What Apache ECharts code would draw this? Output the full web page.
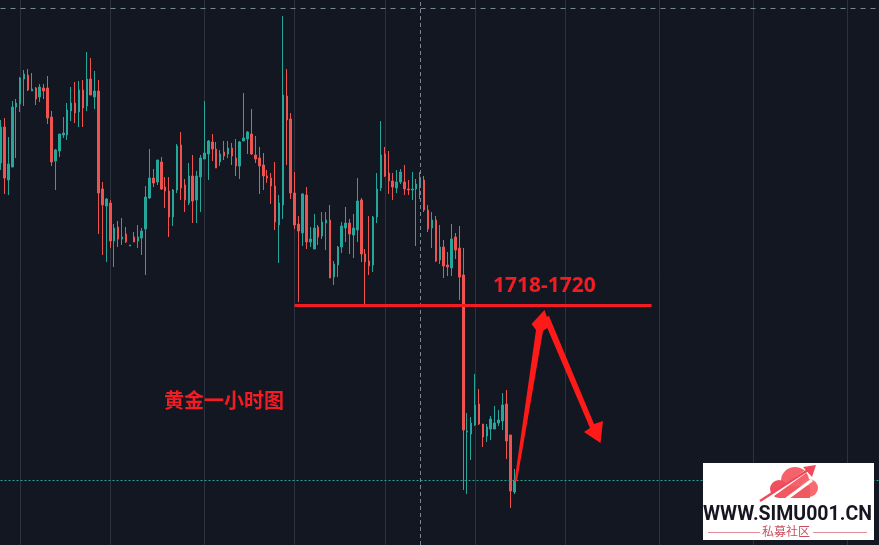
<!DOCTYPE html>
<html><head><meta charset="utf-8">
<script src="https://cdn.jsdelivr.net/npm/echarts@6/dist/echarts.min.js"></script>
<style>html,body{margin:0;padding:0;background:#131722;}#c{width:879px;height:545px;}</style>
</head><body><div id="c"></div>
<script>
const opens=[1733.2,1736.8,1731.5,1732.8,1738.8,1739.1,1741.6,1742.0,1740.4,1740.7,1739.8,1740.7,1740.7,1737.8,1733.4,1734.4,1736.0,1736.0,1738.4,1739.2,1738.3,1740.5,1738.9,1741.6,1739.8,1740.4,1730.6,1728.9,1729.2,1725.4,1726.8,1725.6,1726.1,1724.9,1725.8,1725.4,1725.7,1726.6,1729.7,1731.7,1731.3,1733.3,1730.8,1730.4,1727.8,1730.5,1735.0,1731.0,1729.2,1731.9,1729.5,1731.8,1733.6,1734.1,1735.3,1734.6,1733.3,1734.3,1734.1,1734.7,1733.7,1732.9,1735.4,1735.6,1736.1,1734.0,1733.7,1733.0,1731.9,1731.7,1730.9,1727.0,1729.0,1739.9,1737.6,1730.2,1727.1,1726.2,1730.0,1725.3,1724.6,1726.8,1725.9,1727.2,1727.5,1721.8,1723.0,1724.8,1726.7,1727.2,1726.0,1726.5,1729.5,1724.1,1723.4,1723.0,1727.8,1730.7,1734.1,1732.2,1731.4,1730.7,1731.3,1731.3,1730.6,1730.5,1730.6,1731.0,1731.5,1728.5,1726.7,1727.5,1723.5,1724.8,1723.0,1722.7,1725.8,1724.7,1722.0,1706.3,1706.1,1707.0,1709.1,1707.1,1705.9,1706.6,1706.6,1707.2,1707.4,1709.1,1706.0,1700.3];
const closes=[1736.8,1731.7,1733.1,1738.8,1739.2,1741.7,1742.1,1740.5,1740.6,1739.6,1740.8,1740.4,1737.7,1733.3,1734.5,1736.1,1736.2,1738.5,1739.2,1738.2,1740.5,1738.7,1741.6,1740.0,1740.4,1730.2,1729.0,1729.6,1725.4,1726.7,1725.6,1725.8,1725.3,1725.0,1725.3,1725.8,1726.4,1729.8,1731.7,1731.2,1733.5,1730.6,1730.4,1727.8,1730.5,1734.9,1730.7,1729.5,1731.9,1729.4,1731.9,1733.7,1734.2,1735.4,1734.6,1732.7,1734.1,1733.9,1734.7,1733.9,1732.9,1735.3,1735.7,1736.3,1734.1,1733.6,1732.9,1731.9,1731.7,1730.9,1727.3,1729.2,1740.0,1737.5,1730.2,1727.0,1726.4,1730.1,1725.3,1725.6,1726.7,1725.8,1727.3,1727.5,1721.7,1723.1,1724.8,1726.9,1727.2,1726.1,1726.7,1729.4,1724.1,1723.3,1722.9,1727.8,1730.6,1734.0,1731.9,1731.4,1730.8,1731.3,1732.3,1730.6,1730.5,1730.6,1731.1,1731.5,1728.5,1726.6,1727.5,1723.4,1724.8,1722.9,1722.8,1725.6,1724.5,1721.8,1706.5,1706.4,1707.2,1709.0,1707.1,1705.8,1706.8,1707.6,1707.2,1707.5,1709.0,1705.4,1700.4,1701.5];
const lows=[1732.5,1730.1,1730.0,1732.8,1733.7,1738.3,1738.9,1740.4,1740.4,1739.0,1739.3,1739.6,1737.1,1732.9,1730.5,1733.8,1735.7,1735.5,1737.4,1737.2,1736.8,1736.8,1738.4,1740.0,1738.6,1726.1,1724.0,1723.3,1724.7,1722.8,1724.8,1725.0,1725.2,1724.9,1725.3,1724.7,1724.0,1722.0,1729.6,1730.8,1731.0,1730.5,1728.7,1725.8,1726.9,1730.2,1729.5,1728.3,1729.0,1727.2,1727.2,1728.3,1733.6,1731.5,1733.4,1732.7,1732.9,1733.5,1733.7,1733.0,1731.9,1731.6,1735.4,1734.1,1734.0,1733.2,1730.1,1730.5,1731.2,1729.1,1726.5,1723.2,1727.6,1733.0,1729.6,1726.6,1719.3,1724.9,1724.6,1724.8,1724.6,1725.0,1725.6,1724.5,1721.7,1721.0,1721.8,1724.2,1725.3,1724.1,1723.7,1725.3,1723.3,1719.1,1722.0,1722.3,1727.2,1730.4,1731.8,1730.1,1729.5,1730.2,1731.1,1730.0,1730.0,1729.5,1724.9,1729.6,1728.3,1726.3,1724.7,1723.3,1723.1,1721.7,1721.9,1721.9,1723.6,1719.5,1700.5,1700.1,1703.5,1706.9,1707.0,1704.8,1705.3,1705.5,1706.6,1706.9,1706.5,1703.6,1698.7,1700.1];
const highs=[1737.5,1737.7,1735.8,1739.4,1739.6,1741.8,1742.5,1742.6,1742.2,1740.8,1741.1,1741.1,1741.9,1738.4,1734.6,1736.1,1737.8,1739.2,1740.8,1741.3,1741.4,1741.5,1744.3,1743.7,1742.4,1741.5,1731.3,1729.7,1729.5,1727.1,1727.4,1727.7,1726.8,1725.0,1726.3,1727.0,1726.7,1730.9,1734.6,1732.6,1733.5,1733.8,1731.8,1731.8,1730.6,1735.1,1736.3,1731.6,1733.2,1734.0,1732.4,1734.0,1739.4,1735.5,1736.1,1735.3,1734.5,1735.4,1735.4,1735.2,1735.6,1735.4,1740.2,1736.4,1738.6,1735.9,1734.8,1734.2,1732.5,1732.2,1733.3,1730.0,1747.9,1742.6,1738.2,1732.3,1727.9,1730.2,1730.8,1726.8,1728.1,1727.0,1728.3,1728.3,1729.0,1723.4,1724.9,1727.3,1728.8,1727.6,1728.1,1731.7,1729.7,1724.6,1727.9,1727.9,1732.2,1737.4,1734.8,1734.4,1732.2,1732.5,1732.6,1733.0,1731.5,1732.3,1731.6,1732.3,1731.9,1729.0,1728.3,1727.9,1727.0,1725.5,1724.3,1727.1,1726.2,1726.9,1724.7,1708.2,1707.8,1712.1,1710.6,1707.1,1707.1,1707.9,1708.9,1708.5,1710.2,1710.5,1706.0,1702.6];
// hourly categories (candles + empty space to the right)
const TOTAL_SLOTS = 225;
const categories = [];
for (let i = 0; i < TOTAL_SLOTS; i++) categories.push('H' + i);
const gridLineSlots = [5, 28, 52, 75, 98, 121, 144, 168, 192, 216];
const crossSlot = 'H107';
const crossPrice = 1748.7;
const zonePrice = 1719;
const zoneStart = 'H75', zoneEnd = 'H166';
const zoneLabel = '1718-1720';
const titleText = '黄金一小时图';

const ohlc = opens.map((o, i) => [o, closes[i], lows[i], highs[i]]);
const lastClose = closes[closes.length - 1];

const RED = '#f21c22';
const chart = echarts.init(document.getElementById('c'), null, {renderer: 'canvas'});
chart.setOption({
  backgroundColor: '#131722',
  animation: false,
  grid: {left: 0.5, top: 0, width: 879.2, height: 545},
  xAxis: {
    type: 'category', data: categories, boundaryGap: false,
    axisLine: {show: false}, axisTick: {show: false}, axisLabel: {show: false},
    splitLine: {show: true, interval: (idx) => gridLineSlots.includes(idx), lineStyle: {color: '#2e323e', width: 1}}
  },
  yAxis: {
    type: 'value', min: 1695, max: 1749.5,
    axisLine: {show: false}, axisTick: {show: false}, axisLabel: {show: false}, splitLine: {show: false}
  },
  series: [{
    type: 'candlestick', data: ohlc, barWidth: 2,
    itemStyle: {color: '#26a69a', color0: '#ef5350', borderColor: '#26a69a', borderColor0: '#ef5350', borderWidth: 1},
    markLine: {
      symbol: 'none', silent: true, animation: false,
      label: {show: false},
      data: [
        {xAxis: crossSlot, lineStyle: {color: '#758696', width: 1, type: [4, 3]}},
        {yAxis: crossPrice, lineStyle: {color: '#758696', width: 1, type: [5, 5]}},
        {yAxis: lastClose, lineStyle: {color: '#26a69a', width: 1, type: [2, 2]}},
        [{coord: [zoneStart, zonePrice], lineStyle: {color: RED, width: 3, type: 'solid'}}, {coord: [zoneEnd, zonePrice]}]
      ]
    }
  }],
  graphic: [
    {type: 'text', z: 100, left: 493, top: 276, style: {text: zoneLabel, fill: RED, font: 'bold 21px "Noto Sans", sans-serif'}},
    {type: 'text', z: 100, left: 164, top: 390, style: {text: titleText, fill: RED, font: 'bold 20px "Noto Sans CJK SC", sans-serif'}},
    {type: 'polygon', z: 100, shape: {points: [[514.5, 481], [536, 330], [531.5, 324], [544.5, 310], [550, 326], [543, 331], [517, 481]]}, style: {fill: '#ff1a1a'}},
    {type: 'polygon', z: 100, shape: {points: [[543, 318], [549, 316], [594, 424], [603, 421], [600.5, 443], [584, 432], [590, 428]]}, style: {fill: '#ff1a1a'}},
    // logo
    {type: 'rect', z: 100, shape: {x: 703, y: 463, width: 171, height: 77}, style: {fill: '#ffffff'}},
    {type: 'circle', z: 101, shape: {cx: 795, cy: 481, r: 14}, style: {fill: '#f5626a'}},
    {type: 'circle', z: 101, shape: {cx: 779, cy: 489, r: 9}, style: {fill: '#f0505e'}},
    {type: 'circle', z: 101, shape: {cx: 809, cy: 488, r: 9}, style: {fill: '#f76c70'}},
    {type: 'rect', z: 101, shape: {x: 779, y: 486, width: 31, height: 12}, style: {fill: '#f2585f'}},
    {type: 'line', z: 102, shape: {x1: 770, y1: 497, x2: 805, y2: 472}, style: {stroke: '#ffffff', lineWidth: 3}},
    {type: 'line', z: 102, shape: {x1: 785, y1: 500, x2: 812, y2: 480}, style: {stroke: '#ffffff', lineWidth: 3}},
    {type: 'line', z: 103, shape: {x1: 760, y1: 501, x2: 808, y2: 470}, style: {stroke: '#ef4a5a', lineWidth: 2.5}},
    {type: 'polygon', z: 103, shape: {points: [[816, 465], [803, 467], [812, 477]]}, style: {fill: '#ef4a5a'}},
    {type: 'text', z: 102, left: 703, top: 505, style: {text: 'WWW.SIMU001.CN', fill: '#161622', font: 'bold 19.5px Roboto, sans-serif'}},
    {type: 'line', z: 102, shape: {x1: 708, y1: 532.5, x2: 760, y2: 532.5}, style: {stroke: '#e08c96', lineWidth: 1}},
    {type: 'line', z: 102, shape: {x1: 813, y1: 532.5, x2: 867, y2: 532.5}, style: {stroke: '#e08c96', lineWidth: 1}},
    {type: 'text', z: 102, left: 762, top: 525, style: {text: '私募社区', fill: '#c9505e', font: '12px "Noto Sans CJK SC", sans-serif'}}
  ]
});
</script></body></html>
